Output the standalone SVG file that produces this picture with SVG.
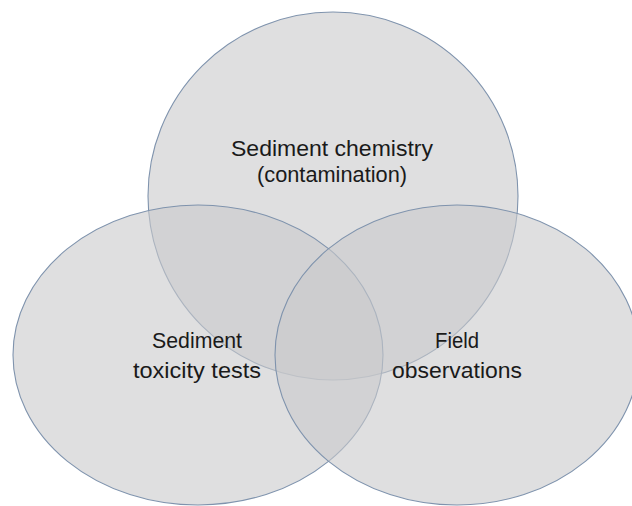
<svg xmlns="http://www.w3.org/2000/svg" width="632" height="506" viewBox="0 0 632 506">
<style>
.c{fill:#c9c9cc;fill-opacity:0.6;stroke:#7f93ad;stroke-width:1.1}
.t{font-family:"Liberation Sans",Arial,sans-serif;font-size:22px;fill:#1a1a1a;text-anchor:middle}
</style>
<rect width="632" height="506" fill="#ffffff"/>
<g id="chemistry">
<ellipse class="c" cx="333" cy="196" rx="185" ry="184"/>
</g>
<g id="toxicity">
<ellipse class="c" cx="198" cy="355" rx="185" ry="150"/>
</g>
<g id="field">
<ellipse class="c" cx="457" cy="355" rx="182" ry="150"/>
</g>
<g id="labels">
<text class="t" x="332" y="156" textLength="202" lengthAdjust="spacingAndGlyphs">Sediment chemistry</text>
<text class="t" x="332" y="182" textLength="150" lengthAdjust="spacingAndGlyphs">(contamination)</text>
<text class="t" x="197" y="348" textLength="90" lengthAdjust="spacingAndGlyphs">Sediment</text>
<text class="t" x="197" y="378" textLength="128" lengthAdjust="spacingAndGlyphs">toxicity tests</text>
<text class="t" x="457" y="348" textLength="44" lengthAdjust="spacingAndGlyphs">Field</text>
<text class="t" x="457" y="378" textLength="130" lengthAdjust="spacingAndGlyphs">observations</text>
</g>
</svg>
